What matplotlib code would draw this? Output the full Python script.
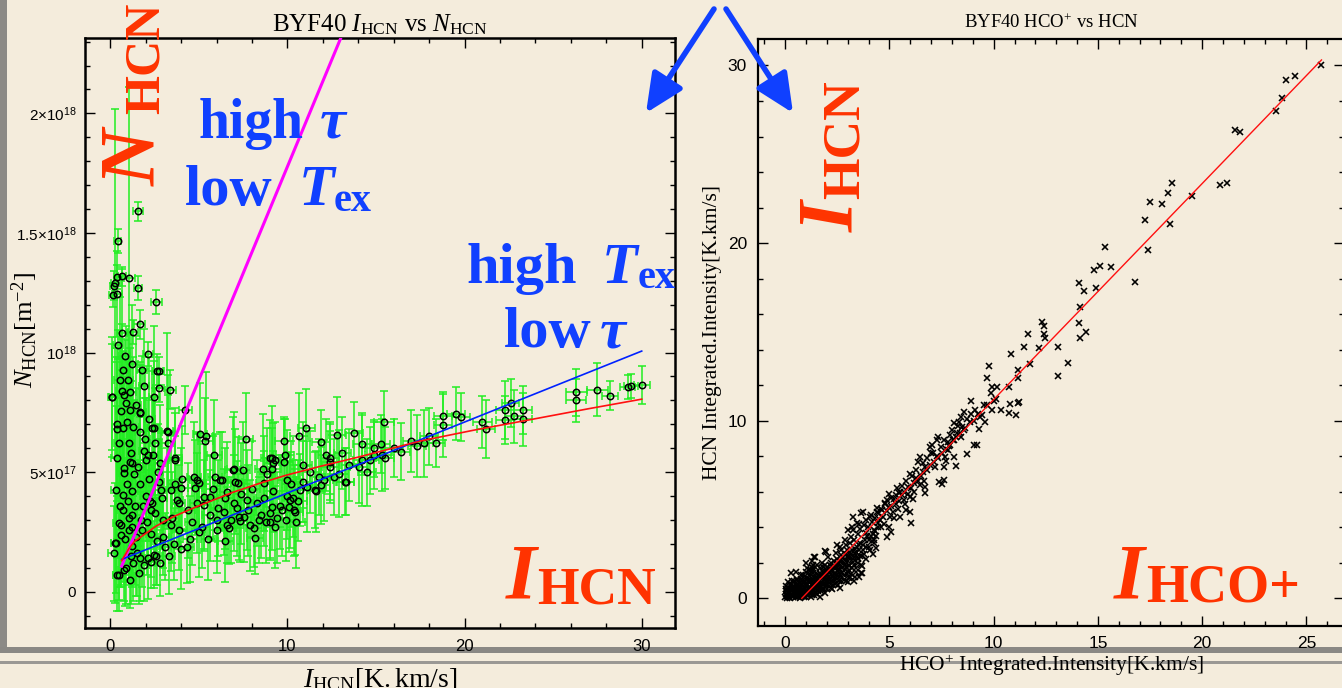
import matplotlib
matplotlib.use("Agg")
import matplotlib.pyplot as plt
from matplotlib.patches import Rectangle, FancyArrowPatch
from matplotlib.ticker import MultipleLocator, FixedLocator, FixedFormatter
import numpy as np

plt.rcParams["mathtext.fontset"] = "custom"
plt.rcParams["mathtext.rm"] = "Liberation Serif"
plt.rcParams["mathtext.it"] = "Liberation Serif:italic"
plt.rcParams["mathtext.bf"] = "Liberation Serif:bold"
plt.rcParams["mathtext.sf"] = "Liberation Sans"

W, H = 1342, 688
PAPER = "#f4ecdc"
RED = "#ff3300"
BLUE = "#1040ff"
GREEN = "#22ee22"
SERIF = "Liberation Serif"
SANS = "Liberation Sans"

# ---- BYF40: HCN integrated intensity [K km/s] vs column density [1e17 m^-2]
i_hcn = [
    0.27, 1.07, 1.56, 0.43, 0.38, 0.66, 0.19, 0.38, 0.15, 1.56,
    2.60, 1.66, 1.28, 0.43, 2.13, 0.81, 0.70, 1.79, 2.73, 0.53,
    1.00, 2.73, 3.39, 0.07, 0.64, 0.75, 1.13, 2.49, 0.60, 1.10,
    1.66, 1.69, 4.24, 0.38, 0.40, 0.70, 0.94, 1.30, 2.45, 3.20,
    3.24, 5.42, 5.37, 7.66, 9.79, 10.64, 11.07, 11.90, 12.80, 0.47,
    0.19, 0.75, 0.60, 0.60, 0.47, 0.28, 0.34, 0.70, 0.73, 0.80,
    0.75, 1.03, 1.17, 1.10, 1.25, 1.35, 1.25, 1.40, 1.00, 1.05,
    1.05, 1.20, 1.20, 1.25, 1.69, 1.90, 2.00, 2.15, 1.70, 1.85,
    1.75, 2.00, 2.26, 2.36, 2.30, 2.30, 2.30, 2.45, 2.60, 2.55,
    2.70, 2.75, 2.85, 2.90, 3.24, 3.00, 3.10, 3.40, 3.67, 3.67,
    3.77, 3.86, 3.40, 4.05, 4.00, 4.33, 4.71, 4.90, 5.08, 5.27,
    5.60, 5.27, 5.88, 5.93, 6.03, 6.31, 6.59, 6.59, 6.68, 6.97,
    7.16, 7.25, 7.06, 7.34, 7.53, 7.72, 7.91, 8.10, 8.19, 8.63,
    8.66, 8.85, 9.13, 9.13, 9.32, 9.13, 9.04, 9.79, 9.98, 10.17,
    10.36, 10.73, 11.10, 11.58, 12.05, 12.43, 12.43, 12.90, 13.28, 13.75,
    14.03, 14.22, 14.65, 14.88, 15.35, 15.44, 16.40, 17.30, 17.70, 18.40,
    18.80, 18.80, 19.50, 19.80, 21.00, 21.20, 22.30, 22.30, 22.60, 22.80,
    23.30, 23.30, 26.30, 26.30, 27.50, 28.20, 29.20, 29.40, 30.00, 10.10,
    10.40, 9.85, 9.00, 9.20, 12.60, 11.60, 13.10, 13.25, 8.50, 8.80,
    9.40, 9.60, 9.90, 10.00, 10.30, 10.50, 8.30, 9.20, 15.50, 15.30,
    14.90, 14.20, 12.40, 11.90, 10.90, 10.90, 7.50, 6.90, 7.20, 6.40,
    6.50, 6.20, 5.00, 4.80, 3.67, 2.66, 2.36, 0.10, 0.40, 0.30,
    0.90, 1.30, 1.60, 1.90, 2.10, 1.50, 2.80, 3.30, 3.60, 4.00,
    4.50, 5.00, 5.50, 6.00, 1.10,
    0.55, 0.85, 0.95, 1.15, 1.45, 1.55, 1.65, 1.80, 1.95, 2.05,
    2.20, 2.40, 2.50, 2.65, 2.80, 2.95, 0.35, 0.50, 0.90, 1.45,
    1.25, 0.65, 1.90, 2.20, 3.50, 3.90, 4.40, 4.60, 4.90, 5.20,
    5.60, 5.80, 6.10, 6.50, 6.80, 7.00, 7.40, 7.80, 8.00, 8.40,
    8.70, 9.00, 9.30, 9.70, 10.20, 10.60, 11.30, 11.80, 12.20, 13.50,
    14.50, 16.00, 17.00, 18.00,
]
n_hcn = [
    12.9, 13.1, 15.9, 14.66, 13.15, 13.18, 12.8, 12.46, 12.39, 12.7,
    12.1, 11.18, 10.86, 10.33, 9.95, 9.84, 9.26, 9.26, 9.23, 8.84,
    8.84, 8.52, 8.45, 8.14, 8.39, 8.24, 8.35, 8.12, 7.55, 7.6,
    7.49, 6.68, 7.59, 7.0, 6.8, 6.85, 7.1, 6.9, 6.86, 6.72,
    6.22, 6.5, 6.29, 6.4, 6.3, 6.5, 6.86, 6.25, 6.54, 0.7,
    1.6, 0.9, 2.37, 2.78, 2.86, 2.03, 4.25, 3.4, 4.04, 4.95,
    5.16, 6.2, 5.79, 5.43, 5.4, 4.9, 4.2, 3.6, 3.8, 3.1,
    2.6, 3.2, 2.7, 1.9, 7.5, 5.9, 5.5, 5.7, 4.5, 3.6,
    3.0, 4.0, 3.8, 3.7, 3.4, 2.4, 1.25, 1.55, 1.5, 6.2,
    5.0, 4.6, 4.25, 3.9, 6.68, 2.3, 1.88, 2.78, 5.5, 4.5,
    3.83, 3.69, 4.25, 4.73, 4.32, 1.88, 4.8, 4.66, 6.61, 3.97,
    3.97, 3.62, 5.71, 4.8, 2.99, 4.66, 4.17, 2.78, 2.65, 5.11,
    3.48, 3.13, 4.6, 2.95, 3.13, 3.83, 2.78, 2.65, 2.23, 5.15,
    4.53, 4.94, 5.57, 5.15, 5.5, 3.55, 2.92, 5.43, 4.66, 3.83,
    3.41, 4.25, 4.38, 4.25, 4.66, 5.22, 5.43, 4.94, 4.59, 6.64,
    5.22, 5.5, 5.5, 5.99, 5.71, 7.1, 5.85, 6.1, 6.2, 6.2,
    7.35, 6.95, 7.45, 7.3, 7.1, 6.8, 7.6, 7.17, 7.9, 7.33,
    7.6, 7.2, 8.33, 8.0, 8.45, 8.2, 8.55, 8.6, 8.63, 3.55,
    3.34, 5.7, 5.58, 5.37, 4.8, 4.2, 5.8, 4.6, 3.2, 2.9,
    3.1, 3.6, 3.0, 4.0, 3.9, 2.9, 3.7, 4.2, 5.6, 6.17,
    5.7, 6.17, 5.6, 4.45, 5.3, 4.6, 5.08, 5.1, 4.55, 3.35,
    2.1, 4.66, 4.55, 4.35, 5.57, 9.23, 6.83, 8.14, 0.7, 2.03,
    1.0, 1.2, 0.8, 1.1, 1.4, 1.6, 1.2, 1.5, 2.0, 1.8,
    2.2, 2.5, 2.2, 2.6, 0.5,
    3.6, 2.2, 4.5, 1.5, 2.3, 5.2, 1.4, 2.6, 6.4, 2.9,
    4.7, 5.7, 3.3, 2.1, 5.4, 3.0, 5.6, 6.2, 7.9, 7.8,
    9.5, 10.8, 8.6, 7.2, 3.1, 2.6, 3.4, 2.9, 3.7, 2.7,
    3.2, 4.3, 3.5, 3.9, 3.0, 3.7, 4.1, 3.4, 4.3, 3.0,
    3.9, 3.3, 2.7, 3.4, 4.5, 3.8, 5.0, 4.8, 5.7, 5.3,
    5.0, 6.0, 6.3, 6.5,
]
i_err = [
    0.25, 0.3, 0.3, 0.2, 0.2, 0.2, 0.2, 0.3, 0.2, 0.2,
    0.3, 0.3, 0.3, 0.3, 0.3, 0.3, 0.3, 0.3, 0.3, 0.3,
    0.3, 0.3, 0.3, 0.2, 0.3, 0.3, 0.3, 0.3, 0.3, 0.3,
    0.3, 0.3, 0.35, 0.3, 0.3, 0.3, 0.3, 0.3, 0.3, 0.35,
    0.35, 0.4, 0.4, 0.4, 0.5, 0.5, 0.5, 0.5, 0.5, 0.3,
    0.3, 0.3, 0.25, 0.3, 0.3, 0.25, 0.3, 0.3, 0.3, 0.3,
    0.3, 0.3, 0.25, 0.3, 0.3, 0.3, 0.3, 0.3, 0.3, 0.25,
    0.3, 0.3, 0.3, 0.3, 0.3, 0.3, 0.3, 0.3, 0.25, 0.3,
    0.3, 0.3, 0.3, 0.3, 0.3, 0.3, 0.3, 0.3, 0.3, 0.3,
    0.3, 0.3, 0.3, 0.3, 0.35, 0.3, 0.3, 0.35, 0.35, 0.35,
    0.35, 0.35, 0.35, 0.4, 0.4, 0.4, 0.4, 0.4, 0.4, 0.4,
    0.4, 0.4, 0.4, 0.4, 0.4, 0.4, 0.4, 0.4, 0.4, 0.4,
    0.4, 0.4, 0.4, 0.4, 0.4, 0.4, 0.4, 0.45, 0.45, 0.45,
    0.45, 0.45, 0.5, 0.5, 0.5, 0.5, 0.45, 0.5, 0.5, 0.5,
    0.5, 0.5, 0.5, 0.45, 0.5, 0.5, 0.5, 0.5, 0.5, 0.5,
    0.5, 0.5, 0.5, 0.5, 0.5, 0.55, 0.5, 0.5, 0.5, 0.5,
    0.5, 0.5, 0.5, 0.5, 0.55, 0.5, 0.5, 0.5, 0.5, 0.5,
    0.5, 0.5, 0.6, 0.55, 0.6, 0.45, 0.4, 0.4, 0.45, 0.5,
    0.5, 0.5, 0.5, 0.45, 0.5, 0.5, 0.5, 0.5, 0.45, 0.45,
    0.5, 0.5, 0.5, 0.5, 0.5, 0.5, 0.45, 0.5, 0.5, 0.5,
    0.5, 0.5, 0.5, 0.5, 0.5, 0.5, 0.4, 0.4, 0.4, 0.4,
    0.4, 0.4, 0.4, 0.4, 0.35, 0.3, 0.3, 0.2, 0.25, 0.25,
    0.3, 0.3, 0.3, 0.3, 0.3, 0.3, 0.3, 0.35, 0.35, 0.4,
    0.4, 0.4, 0.4, 0.4, 0.3,
    0.3, 0.3, 0.3, 0.3, 0.3, 0.3, 0.3, 0.3, 0.3, 0.3,
    0.3, 0.3, 0.3, 0.3, 0.3, 0.3, 0.3, 0.3, 0.3, 0.3,
    0.3, 0.3, 0.3, 0.3, 0.35, 0.4, 0.4, 0.4, 0.4, 0.4,
    0.4, 0.4, 0.4, 0.4, 0.4, 0.4, 0.4, 0.45, 0.45, 0.45,
    0.45, 0.5, 0.5, 0.5, 0.5, 0.5, 0.5, 0.5, 0.5, 0.5,
    0.5, 0.5, 0.5, 0.5,
]
n_err = [
    7.3, 8.0, 0.4, 0.5, 0.5, 0.4, 0.6, 1.8, 0.5, 0.5,
    0.5, 0.6, 0.5, 0.6, 0.5, 0.7, 0.8, 0.6, 0.6, 3.5,
    2.0, 0.6, 0.8, 2.5, 2.8, 1.5, 2.4, 3.0, 3.0, 2.6,
    2.0, 2.5, 1.0, 3.2, 2.8, 2.5, 2.2, 2.9, 2.8, 4.1,
    2.0, 2.7, 1.8, 1.9, 1.0, 1.8, 1.6, 1.35, 1.6, 1.5,
    2.0, 1.3, 2.1, 2.6, 3.2, 2.5, 3.5, 3.0, 3.3, 3.8,
    3.0, 3.4, 3.0, 4.1, 2.5, 3.1, 2.7, 3.3, 2.9, 2.4,
    2.3, 2.6, 2.0, 1.7, 2.1, 2.2, 2.6, 2.3, 2.8, 2.4,
    2.2, 1.9, 2.0, 1.6, 2.1, 1.8, 1.1, 1.4, 1.2, 2.3,
    2.0, 1.8, 2.4, 2.1, 2.4, 1.6, 1.4, 1.9, 2.2, 2.0,
    1.9, 1.6, 2.3, 2.2, 1.7, 1.5, 2.3, 2.0, 2.1, 2.2,
    1.7, 1.9, 2.3, 1.8, 1.7, 2.0, 2.1, 1.6, 1.5, 2.4,
    2.0, 1.8, 2.2, 1.7, 1.9, 2.1, 1.9, 1.6, 1.5, 2.3,
    2.0, 1.9, 2.2, 1.7, 1.6, 1.8, 1.6, 1.8, 2.1, 2.0,
    1.9, 1.5, 1.9, 1.6, 1.7, 1.5, 1.6, 1.8, 1.4, 1.3,
    1.5, 1.9, 1.4, 1.2, 1.5, 1.3, 1.2, 1.3, 1.4, 1.0,
    1.0, 1.3, 1.1, 1.0, 1.1, 1.2, 1.2, 1.0, 1.0, 1.1,
    1.0, 1.1, 1.0, 0.9, 1.1, 0.6, 0.5, 0.5, 0.8, 1.9,
    1.8, 1.5, 1.6, 1.7, 1.6, 1.7, 1.5, 1.4, 1.8, 1.7,
    1.9, 1.8, 1.7, 1.8, 1.6, 1.9, 1.8, 1.7, 1.3, 1.2,
    1.4, 1.3, 1.5, 1.6, 1.8, 1.7, 2.0, 2.2, 1.9, 1.8,
    1.7, 2.0, 2.1, 2.0, 1.9, 0.7, 2.4, 2.2, 1.5, 2.1,
    1.5, 1.6, 1.3, 1.5, 1.7, 1.8, 1.4, 1.6, 1.5, 1.7,
    1.8, 1.9, 1.7, 1.8, 1.2,
    3.4, 2.8, 3.6, 2.0, 2.5, 3.3, 1.8, 2.4, 2.9, 2.2,
    2.6, 2.5, 2.2, 1.8, 2.4, 2.0, 4.2, 3.6, 3.2, 2.9,
    2.5, 2.7, 2.4, 2.6, 1.9, 1.7, 2.0, 1.8, 2.1, 1.7,
    1.9, 2.2, 2.0, 2.1, 1.8, 2.0, 2.1, 1.9, 2.0, 1.8,
    2.0, 1.9, 1.7, 1.9, 1.8, 1.7, 1.7, 1.6, 1.5, 1.5,
    1.4, 1.2, 1.3, 1.2,
]

# model lines on the left panel (x in K km/s, y in 1e17 m^-2)
thick_x = [0.64, 13.0]
thick_y = [1.07, 23.13]
thin_x = [0.64, 30.0]
thin_y = [1.35, 10.06]
curve_x = [0.64, 1.0, 1.36, 2.6, 3.6, 4.86, 6.9, 8.3, 9.93, 11.9,
           13.96, 17.5, 20.5, 24.05, 27.0, 30.0]
curve_y = [1.30, 1.75, 2.10, 2.75, 3.15, 3.55, 4.15, 4.50, 4.87, 5.25,
           5.62, 6.30, 6.75, 7.24, 7.65, 8.05]

# ---- BYF40: HCO+ vs HCN integrated intensity [K km/s]
hcop = [
    25.72, 24.47, 24.00, 23.84, 23.56, 21.59, 21.82, 21.17, 20.83, 19.50,
    18.56, 18.38, 18.09, 17.48, 17.24, 18.44, 17.38, 16.80, 15.32, 15.10,
    14.83, 15.64, 14.07, 14.35, 14.91, 14.15, 14.07, 14.43, 14.15, 12.31,
    12.41, 12.41, 12.46, 11.65, 11.45, 12.16, 13.09,
    10.85, 11.76, 13.58, 13.07, 11.15, 11.19, 9.79, 9.67, 9.94, 10.18,
    9.88, 10.75, 10.04, 10.10, 11.15, 11.21, 10.80, 11.05, 10.75, 10.34,
    9.94,
    8.92, 9.12, 9.53, 9.33, 9.57, 9.29, 9.06, 9.22, 8.72, 8.42,
    8.32, 8.48, 8.11, 8.58, 8.38, 8.72, 8.21, 8.11, 8.21, 8.11,
    7.91, 7.81, 7.47, 7.34, 7.30, 7.04, 6.96, 7.10, 7.67, 7.71,
    7.61, 7.40, 7.51, 7.61, 7.20, 6.70, 6.49, 6.39, 6.60, 6.29,
    6.70, 6.70, 6.45, 5.89, 5.99, 5.68, 5.48, 5.79, 5.99, 6.05,
    5.38, 5.08, 4.87, 4.77, 4.98, 5.18, 4.67, 4.47, 4.47, 4.17,
    3.97, 4.27, 3.66, 3.26, 3.46, 3.86, 4.27, 4.37, 5.08, 4.98,
    4.87, 3.26, 3.16, 2.85, 2.95, 2.65, 2.45, 2.04, 1.43, 1.33,
    1.94, 3.66, 3.36, 3.05, 1.03, 1.23, 3.03, 3.19, 3.72, 4.07,
    4.42, 3.55, 3.67, 2.47,
    8.90, 8.60, 8.00, 7.90, 7.60, 7.00, 6.80, 6.60, 6.30, 6.10,
    6.00, 5.80, 5.60, 5.50, 5.30, 5.20, 5.00, 4.80, 4.60, 4.40,
    4.30, 4.10, 3.90, 3.80, 3.60, 3.50, 3.30, 3.10, 2.90, 2.70,
    5.70, 6.20, 7.30, 7.80, 8.30, 4.20, 4.60, 5.20, 5.50, 4.00,
    4.55, 4.70, 4.90, 5.10, 5.30, 5.45, 5.60, 5.75, 5.90, 6.05,
    6.20, 6.35, 6.50, 6.65, 6.80, 6.95, 7.15, 7.35, 7.50, 7.70,
    7.85, 8.05, 8.25, 8.45, 8.65, 8.85, 9.05, 9.25, 9.45, 9.70,
    5.05, 5.40, 6.15, 4.75,
    0.00, 0.05, 0.10, 0.10, 0.15, 0.20, 0.20, 0.05,
    0.25, 0.30, 0.30, 0.35, 0.40, 0.45, 0.45, 0.50, 0.50,
    0.55, 0.60, 0.60, 0.65, 0.70, 0.70, 0.75, 0.80, 0.80, 0.80,
    0.85, 0.90, 0.90, 0.95, 1.00, 1.00, 1.05, 1.05, 1.10, 1.10,
    1.15, 1.20, 1.20, 1.25, 1.30, 1.30, 1.35, 1.35, 1.40, 1.40,
    1.45, 1.50, 1.50, 1.55, 1.60, 1.60, 1.65, 1.70, 1.70, 1.65,
    1.75, 1.80, 1.80, 1.85, 1.90, 1.90, 1.95, 2.00, 2.00, 2.00,
    2.05, 2.10, 2.10, 2.15, 2.20, 2.25, 2.25, 2.30, 2.35, 2.35,
    2.40, 2.45, 2.50, 2.50, 2.55, 2.60, 2.65, 2.70, 2.70, 2.65,
    2.80, 2.80, 2.85, 2.90, 2.95, 3.00, 3.05, 3.10, 3.10, 3.00,
    3.20, 3.25, 3.30, 3.35, 3.40, 3.45, 3.50, 3.55, 3.60, 3.60,
    3.70, 3.75, 3.85, 3.90, 4.00, 4.10, 4.20, 4.25, 4.30,
    0.30, 0.50, 1.00, 1.30, 0.56, 1.27, 1.39, 1.92,
    0.02, 0.08, 0.12, 0.18, 0.22, 0.28, 0.32, 0.38, 0.42, 0.48,
    0.15, 0.35, 0.25, 0.52, 0.58, 0.62, 0.68, 0.72, 0.78, 0.82,
    0.88, 0.92, 0.98, 0.55, 0.75, 0.95, 1.02, 1.08, 1.12, 1.18,
    1.22, 1.28, 1.32, 1.38, 1.42, 1.48, 1.15, 1.45, 1.52, 1.58,
    1.62, 1.68, 1.72, 1.78, 1.82, 1.88, 1.92, 1.98, 1.55, 1.75,
    2.02, 2.08, 2.12, 2.18, 2.22, 2.28, 2.32, 2.38, 2.42, 2.48,
    2.20, 2.52, 2.58, 2.62, 2.68, 2.72, 2.78, 2.82, 2.88, 2.92,
    2.98, 3.02, 3.08, 3.12, 3.18, 3.22, 3.28, 3.32, 3.38, 3.42,
    3.48, 3.55, 3.62, 3.68, 3.72, 3.80, 3.88, 3.95, 4.05, 4.15,
    4.35, 4.45,
    0.05, 0.10, 0.15, 0.20, 0.25, 0.30, 0.35, 0.40, 0.45, 0.50,
    0.55, 0.60, 0.65, 0.70, 0.75, 0.80, 0.85, 0.90, 0.95, 1.00,
    1.05, 1.10, 1.15, 1.20, 1.25, 1.30, 1.35, 1.40, 1.45, 1.50,
    1.55, 1.60, 1.65, 1.70, 1.75, 1.80, 1.85, 1.90, 1.95, 2.00,
    2.10, 2.15, 2.20, 2.30, 2.35, 2.40, 2.50, 2.55, 2.60, 2.70,
    2.75, 2.85, 2.90, 3.00, 3.05, 3.15, 3.25, 3.35, 3.45, 3.55,
]
hcn = [
    30.03, 29.43, 29.18, 28.19, 27.44, 26.37, 26.24, 23.37, 23.27, 22.65,
    23.40, 22.80, 22.22, 22.30, 21.28, 21.06, 19.60, 17.83, 19.80, 18.73,
    18.47, 18.67, 17.74, 17.32, 17.47, 16.42, 15.48, 14.98, 14.67, 15.57,
    15.33, 14.88, 14.67, 14.86, 14.17, 14.08, 14.17,
    13.76, 13.17, 13.27, 12.53, 12.85, 12.38, 13.08, 12.38, 11.91, 11.88,
    11.58, 11.88, 11.11, 11.20, 10.98, 11.07, 10.94, 10.32, 10.42, 10.60,
    10.60,
    11.13, 10.60, 10.89, 10.19, 9.95, 9.52, 8.63, 8.63, 10.08, 10.19,
    9.95, 9.67, 9.86, 9.48, 9.29, 8.13, 7.45, 7.98, 9.10, 8.92,
    8.63, 8.35, 8.54, 9.10, 8.92, 8.63, 8.54, 8.17, 7.94, 7.75,
    7.38, 6.57, 6.44, 6.66, 7.41, 7.41, 7.98, 7.70, 7.13, 6.76,
    6.29, 5.91, 6.38, 6.29, 5.73, 5.54, 5.91, 4.97, 4.88, 4.26,
    6.20, 5.63, 5.54, 5.35, 5.16, 4.88, 4.97, 4.78, 4.22, 4.32,
    4.04, 3.85, 4.78, 4.60, 4.22, 3.66, 3.29, 2.82, 3.76, 4.04,
    3.47, 3.85, 3.47, 3.29, 2.72, 2.91, 2.53, 2.35, 2.35, 1.88,
    2.63, 1.41, 1.22, 1.13, 1.69, 1.60, 3.85, 4.03, 4.84, 4.60,
    4.84, 4.20, 1.41, 3.00,
    10.40, 10.50, 9.50, 9.20, 8.90, 8.20, 7.90, 7.60, 7.20, 6.90,
    7.00, 6.60, 6.30, 6.00, 5.80, 5.60, 5.90, 5.30, 5.00, 5.10,
    4.50, 4.70, 4.40, 4.10, 3.90, 3.60, 3.30, 3.10, 3.00, 2.70,
    6.00, 6.50, 8.00, 8.80, 9.70, 3.60, 4.00, 4.50, 4.60, 3.30,
    4.40, 4.60, 4.90, 5.20, 5.30, 5.50, 5.80, 5.30, 5.90, 6.20,
    6.00, 6.60, 6.90, 6.60, 7.20, 7.50, 7.70, 7.90, 8.20, 8.40,
    8.60, 8.90, 9.30, 9.10, 9.60, 9.90, 10.00, 10.40, 10.30, 10.90,
    4.60, 5.00, 5.60, 4.20,
    0.05, 0.25, 0.00, 0.45, 0.15, 0.60, 0.30, 0.70,
    0.00, 0.40, 0.80, 0.15, 0.55, 1.00, 0.30, 0.05, 0.75,
    0.45, 0.20, 0.95, 0.65, 0.00, 0.35, 1.10, 0.80, 0.50, 0.15,
    1.30, 0.60, 0.30, 0.95, 0.05, 1.50, 0.75, 0.40, 1.15, 0.20,
    0.90, 0.55, 1.35, 0.10, 1.00, 0.35, 1.60, 0.70, 0.20, 1.20,
    0.50, 0.90, 1.45, 0.25, 1.10, 0.65, 1.70, 0.40, 1.30, 0.10,
    0.85, 1.50, 0.55, 1.10, 0.30, 1.85, 0.75, 1.30, 0.50, 1.60,
    0.95, 1.45, 0.70, 1.90, 1.15, 0.55, 1.60, 0.90, 1.35, 2.10,
    0.80, 1.70, 1.10, 2.20, 0.75, 1.45, 1.90, 1.00, 2.45, 0.60,
    1.30, 2.00, 1.65, 0.95, 2.30, 1.50, 1.90, 1.20, 2.60, 0.90,
    1.70, 2.20, 1.00, 2.50, 1.50, 2.90, 2.00, 1.20, 2.40, 3.10,
    1.80, 2.70, 3.30, 2.20, 2.90, 3.50, 2.50, 3.10, 3.80,
    1.40, 1.50, 2.00, 2.10, 1.03, 1.78, 2.31, 2.66,
    0.40, 0.15, 0.60, 0.05, 0.45, 0.20, 0.65, 0.05, 0.35, 0.55,
    0.90, 1.00, 0.75, 0.25, 0.70, 0.10, 0.50, 0.85, 0.30, 1.00,
    0.45, 0.10, 0.70, 1.10, 1.30, 1.25, 0.30, 0.95, 0.55, 1.25,
    0.25, 0.80, 1.45, 0.45, 1.00, 0.70, 1.60, 1.75, 1.20, 0.45,
    0.90, 1.45, 0.70, 1.15, 1.75, 0.55, 1.40, 0.95, 1.90, 2.00,
    1.75, 1.15, 0.85, 1.55, 2.00, 1.25, 0.75, 1.80, 1.30, 2.00,
    0.60, 1.55, 0.95, 2.10, 1.25, 1.70, 2.30, 1.05, 1.90, 2.50,
    1.35, 2.10, 1.60, 2.35, 1.35, 2.70, 1.90, 2.30, 1.70, 2.60,
    2.20, 2.70, 1.90, 2.40, 3.00, 2.50, 2.90, 3.50, 2.70, 3.20,
    3.50, 4.00,
    0.55, 0.20, 0.35, 0.10, 0.55, 0.25, 0.45, 0.15, 0.70, 0.25,
    0.60, 0.40, 0.85, 0.15, 0.60, 0.35, 0.90, 0.15, 0.50, 0.85,
    0.20, 0.60, 0.35, 0.95, 0.55, 0.20, 1.05, 0.60, 0.30, 1.15,
    0.70, 0.40, 1.25, 0.85, 0.50, 1.30, 0.80, 1.55, 1.10, 0.75,
    1.65, 1.05, 1.35, 1.75, 1.10, 1.45, 1.85, 1.25, 1.65, 2.05,
    1.45, 2.15, 1.75, 2.30, 1.80, 2.50, 2.05, 2.75, 2.35, 3.00,
]
fit_x = [0.8, 25.72]
fit_y = [0.0, 30.31]

fig = plt.figure(figsize=(W / 100, H / 100), dpi=100, facecolor=PAPER)


def box(x0, y0, x1, y1):
    return [x0 / W, 1 - y1 / H, (x1 - x0) / W, (y1 - y0) / H]


# slide frame behind the panels
bg = fig.add_axes([0, 0, 1, 1], zorder=0)
bg.set_xlim(0, W)
bg.set_ylim(H, 0)
bg.axis("off")
bg.add_patch(Rectangle((0, 0), 7, 653, color="#8c8a86", lw=0))
bg.add_patch(Rectangle((0, 647), W, 6, color="#8a8884", lw=0))
bg.add_patch(Rectangle((0, 661), W, 2.5, color="#9a9894", lw=0))


def style_axes(ax, lw, major, minor, size):
    ax.set_facecolor("none")
    for sp in ax.spines.values():
        sp.set_linewidth(lw)
    ax.tick_params(which="both", direction="in", top=True, right=True,
                   labelsize=size, width=1.0)
    ax.tick_params(which="major", length=major)
    ax.tick_params(which="minor", length=minor)
    for lab in ax.get_xticklabels() + ax.get_yticklabels():
        lab.set_family(SANS)


# ---- left panel
ax1 = fig.add_axes(box(85, 38, 675, 628), zorder=1)
ax1.errorbar(i_hcn, np.array(n_hcn) * 1e17, xerr=i_err,
             yerr=np.array(n_err) * 1e17, fmt="none", ecolor=GREEN,
             elinewidth=1.1, capsize=3, capthick=1.1, zorder=2)
ax1.plot(i_hcn, np.array(n_hcn) * 1e17, "o", ms=4.6, mfc="none", mec="black",
         mew=1.1, zorder=3)
ax1.plot(thick_x, np.array(thick_y) * 1e17, color="#ff00ff", lw=2.2, zorder=4)
ax1.plot(thin_x, np.array(thin_y) * 1e17, color="#0022ff", lw=1.2, zorder=4)
ax1.plot(curve_x, np.array(curve_y) * 1e17, color="#ff1010", lw=1.2, zorder=4)
ax1.set_xlim(-1.43, 31.88)
ax1.set_ylim(-0.1518e18, 2.315e18)
ax1.xaxis.set_major_locator(FixedLocator([0, 10, 20, 30]))
ax1.xaxis.set_minor_locator(MultipleLocator(2))
ax1.yaxis.set_major_locator(FixedLocator([0, 5e17, 1e18, 1.5e18, 2e18]))
ax1.yaxis.set_major_formatter(FixedFormatter([
    r"$\mathsf{0}$", r"$\mathsf{5{\times}10^{17}}$", r"$\mathsf{10^{18}}$",
    r"$\mathsf{1.5{\times}10^{18}}$", r"$\mathsf{2{\times}10^{18}}$"]))
ax1.yaxis.set_minor_locator(MultipleLocator(1e17))
style_axes(ax1, 1.8, 7.5, 3.8, 11)
ax1.tick_params(axis="x", labelsize=12, pad=8)
ax1.tick_params(axis="y", pad=6)
ax1.set_title(r"BYF40 $I_{\rm HCN}$ vs $N_{\rm HCN}$", family=SERIF,
              fontsize=18, pad=5)
ax1.set_xlabel(r"$I_{\rm HCN}[{\rm K.km/s}]$", fontsize=20)
ax1.xaxis.set_label_coords(0.5, -0.062)
ax1.xaxis.label.set_va("top")
ax1.set_ylabel(r"$N_{\rm HCN}[{\rm m}^{-2}]$", fontsize=19)
ax1.yaxis.set_label_coords(-0.102, (628 - 330) / 590)
ax1.yaxis.label.set_va("center")

# ---- right panel
ax2 = fig.add_axes(box(758, 39, 1344, 626), zorder=1)
ax2.plot(hcop, hcn, "x", color="black", ms=4.9, mew=1.15, zorder=3)
ax2.plot(fit_x, fit_y, color="#ff1010", lw=1.0, zorder=4)
ax2.set_xlim(-1.30, 26.80)
ax2.set_ylim(-1.56, 31.49)
ax2.xaxis.set_major_locator(MultipleLocator(5))
ax2.xaxis.set_minor_locator(MultipleLocator(1))
ax2.yaxis.set_major_locator(MultipleLocator(10))
ax2.yaxis.set_minor_locator(MultipleLocator(2))
style_axes(ax2, 1.6, 7.5, 3.8, 12.5)
ax2.tick_params(axis="x", pad=7)
ax2.tick_params(axis="y", pad=8)
ax2.set_title(r"BYF40 HCO$^{+}$ vs HCN", family=SERIF, fontsize=13.5, pad=8)
ax2.set_xlabel(r"HCO$^{+}$ Integrated.Intensity[K.km/s]", family=SERIF,
               fontsize=15.5)
ax2.xaxis.set_label_coords((1052 - 758) / 586, -0.068)
ax2.xaxis.label.set_va("center")
ax2.set_ylabel("HCN Integrated.Intensity[K.km/s]", family=SERIF, fontsize=15.5)
ax2.yaxis.set_label_coords((712 - 758) / 586, (626 - 332) / 587)
ax2.yaxis.label.set_va("center")

# ---- slide annotations, laid out in pixel coordinates
top = fig.add_axes([0, 0, 1, 1], zorder=10)
top.set_xlim(0, W)
top.set_ylim(H, 0)
top.axis("off")


def word(x, y, s, size, color, italic=False, rot=0):
    top.text(x, y, s, fontsize=size, color=color, family=SERIF,
             fontweight="bold", fontstyle="italic" if italic else "normal",
             rotation=rot, rotation_mode="anchor", ha="left", va="baseline")


word(199, 138, "high", 40, BLUE)
word(320, 138, "τ", 42, BLUE, italic=True)
word(185, 205, "low", 42, BLUE)
word(299, 205, "T", 42, BLUE, italic=True)
word(334, 211, "ex", 29, BLUE)
word(466, 283, "high", 42, BLUE)
word(602, 283, "T", 42, BLUE, italic=True)
word(638, 288, "ex", 29, BLUE)
word(504, 347, "low", 42, BLUE)
word(600, 347, "τ", 42, BLUE, italic=True)

word(154, 186, "N", 57, RED, italic=True, rot=90)
word(159, 114, "HCN", 36, RED, rot=90)
word(506, 597, "I", 57, RED, italic=True)
word(537, 603, "HCN", 38.5, RED)
word(852, 232, "I", 57, RED, italic=True, rot=90)
word(859, 199, "HCN", 38.5, RED, rot=90)
word(1114, 597, "I", 57, RED, italic=True)
word(1146, 602, "HCO+", 39, RED)

# line of blue text running above the slide edge
word(281, -14, "p", 42, BLUE)
word(706, -14, "yp", 42, BLUE)
word(1162, -14, "y", 42, BLUE)

for start, end in [((714, 9), (646, 113)), ((726, 9), (793, 113))]:
    top.add_patch(FancyArrowPatch(start, end, arrowstyle="-|>,head_length=1.3,head_width=0.6",
                                  mutation_scale=18, lw=4, color=BLUE,
                                  shrinkA=0, shrinkB=0))

fig.savefig("out.png", dpi=100, facecolor=PAPER)
